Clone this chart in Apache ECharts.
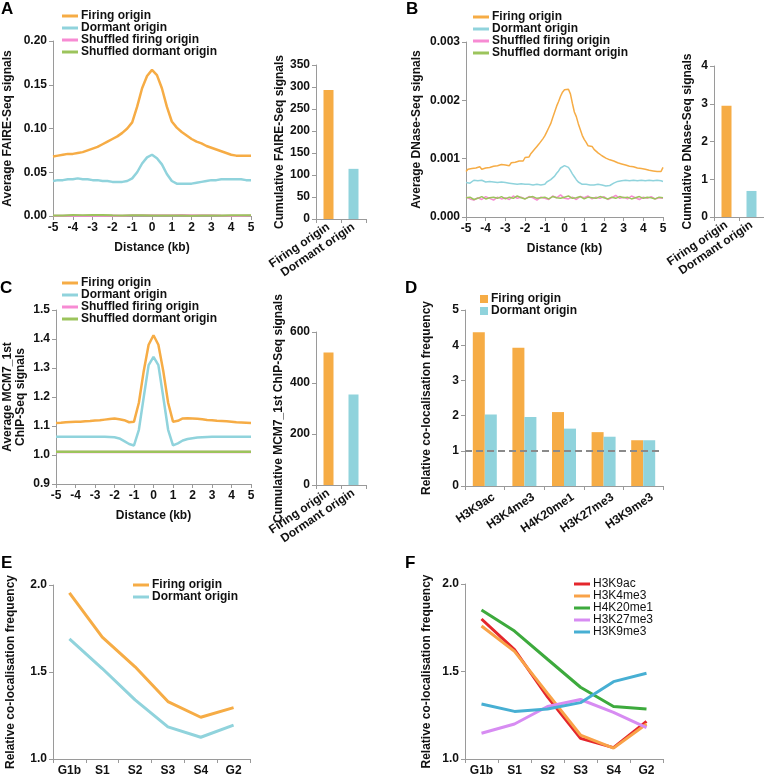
<!DOCTYPE html>
<html><head><meta charset="utf-8">
<script src="https://cdn.jsdelivr.net/npm/echarts@6.0.0/dist/echarts.min.js"></script>
<style>html,body{margin:0;padding:0;background:#fff}#c{width:764px;height:778px}</style>
</head><body><div id="c"></div>
<script>
// ---------- DATA ----------
const originCats = ['Firing origin', 'Dormant origin'];
// Panel A: FAIRE-Seq profiles (step 0.25 kb from -5)
const faireFiring = [0.068,0.069,0.070,0.071,0.071,0.072,0.073,0.075,0.077,0.079,0.082,0.085,0.088,0.091,0.095,0.100,0.107,0.125,0.146,0.160,0.167,0.161,0.146,0.125,0.108,0.101,0.096,0.092,0.088,0.085,0.083,0.080,0.078,0.076,0.074,0.072,0.070,0.069,0.069,0.069,0.069];
const faireDormant = [0.040,0.041,0.041,0.042,0.042,0.043,0.042,0.042,0.041,0.041,0.040,0.040,0.039,0.039,0.039,0.040,0.043,0.050,0.060,0.067,0.070,0.066,0.059,0.048,0.040,0.037,0.037,0.037,0.037,0.038,0.039,0.040,0.041,0.041,0.042,0.042,0.042,0.042,0.042,0.041,0.041];
// step 0.5 kb
const faireShufFiring = [0.0004,0.0004,0.0005,0.0004,0.0005,0.0004,0.0005,0.0004,0.0009,0.0010,0.0008,0.0010,0.0009,0.0011,0.0009,0.0010,0.0008,0.0005,0.0004,0.0004,0.0005];
const faireShufDormant = [0.0006,0.0006,0.0011,0.0010,0.0012,0.0011,0.0008,0.0006,0.0010,0.0009,0.0007,0.0006,0.0005,0.0005,0.0004,0.0005,0.0006,0.0005,0.0009,0.0010,0.0009];
const faireCumulative = [293, 114];

// Panel B: DNase-Seq profiles (step 0.1 kb from -5)
const dnaseFiring = [
0.00078,0.00082,0.00079,0.00083,0.00080,0.00084,0.00081,0.00086,0.00082,0.00080,
0.00084,0.00081,0.00085,0.00083,0.00087,0.00084,0.00088,0.00086,0.00090,0.00087,
0.00089,0.00092,0.00088,0.00093,0.00090,0.00094,0.00091,0.00096,0.00099,0.00096,
0.00102,0.00105,0.00103,0.00109,0.00112,0.00117,0.00121,0.00125,0.00128,0.00134,
0.00139,0.00146,0.00153,0.00160,0.00170,0.00180,0.00190,0.00198,0.00207,0.00214,
0.00218,0.00215,0.00219,0.00211,0.00195,0.00180,0.00172,0.00160,0.00150,0.00140,
0.00133,0.00128,0.00122,0.00125,0.00121,0.00116,0.00113,0.00110,0.00108,0.00105,
0.00106,0.00101,0.00103,0.00098,0.00100,0.00096,0.00098,0.00093,0.00095,0.00091,
0.00093,0.00089,0.00091,0.00087,0.00090,0.00086,0.00088,0.00084,0.00087,0.00083,
0.00086,0.00082,0.00084,0.00080,0.00083,0.00079,0.00082,0.00078,0.00081,0.00078,
0.00085];
const dnaseDormant = [
0.00059,0.00062,0.00058,0.00061,0.00063,0.00060,0.00062,0.00059,0.00063,0.00061,
0.00060,0.00063,0.00061,0.00064,0.00060,0.00062,0.00059,0.00062,0.00060,0.00061,
0.00059,0.00061,0.00058,0.00060,0.00057,0.00059,0.00056,0.00058,0.00057,0.00059,
0.00056,0.00058,0.00056,0.00057,0.00055,0.00058,0.00056,0.00057,0.00055,0.00056,
0.00056,0.00060,0.00063,0.00064,0.00067,0.00070,0.00075,0.00079,0.00084,0.00086,
0.00088,0.00087,0.00085,0.00080,0.00074,0.00069,0.00064,0.00060,0.00058,0.00056,
0.00055,0.00056,0.00054,0.00055,0.00053,0.00055,0.00054,0.00056,0.00053,0.00055,
0.00054,0.00053,0.00055,0.00054,0.00056,0.00058,0.00059,0.00061,0.00060,0.00062,
0.00060,0.00063,0.00061,0.00062,0.00060,0.00063,0.00061,0.00062,0.00060,0.00063,
0.00061,0.00062,0.00060,0.00063,0.00061,0.00062,0.00060,0.00063,0.00061,0.00062,
0.00061];
// step 0.2 kb
const dnaseShufFiring = [
0.00034,0.00031,0.00029,0.00033,0.00030,0.00035,0.00032,0.00029,0.00034,0.00031,
0.00033,0.00030,0.00036,0.00032,0.00034,0.00031,0.00035,0.00033,0.00029,0.00034,
0.00032,0.00030,0.00036,0.00033,0.00038,0.00032,0.00031,0.00034,0.00030,0.00035,
0.00033,0.00036,0.00031,0.00034,0.00032,0.00035,0.00030,0.00033,0.00037,0.00032,
0.00034,0.00031,0.00036,0.00033,0.00030,0.00034,0.00032,0.00035,0.00031,0.00033,
0.00032];
const dnaseShufDormant = [
0.00033,0.00034,0.00030,0.00032,0.00035,0.00031,0.00033,0.00034,0.00032,0.00035,
0.00031,0.00034,0.00032,0.00036,0.00033,0.00031,0.00034,0.00035,0.00032,0.00033,
0.00034,0.00031,0.00035,0.00033,0.00032,0.00034,0.00036,0.00032,0.00033,0.00035,
0.00031,0.00034,0.00033,0.00032,0.00035,0.00033,0.00031,0.00034,0.00032,0.00035,
0.00033,0.00034,0.00031,0.00033,0.00035,0.00032,0.00034,0.00033,0.00031,0.00034,
0.00033];
const dnaseCumulative = [2.95, 0.69];

// Panel C: MCM7_1st ChIP-Seq profiles (step 0.25 kb from -5)
const mcmFiring = [1.110,1.111,1.113,1.114,1.115,1.115,1.116,1.117,1.119,1.120,1.122,1.124,1.126,1.123,1.120,1.113,1.115,1.180,1.290,1.380,1.413,1.380,1.290,1.180,1.115,1.118,1.126,1.127,1.126,1.125,1.123,1.121,1.120,1.118,1.117,1.116,1.115,1.113,1.112,1.111,1.110];
const mcmDormant = [1.063,1.063,1.063,1.063,1.063,1.063,1.063,1.063,1.063,1.063,1.063,1.062,1.061,1.057,1.048,1.038,1.033,1.087,1.200,1.310,1.338,1.310,1.200,1.087,1.033,1.040,1.050,1.055,1.058,1.060,1.061,1.062,1.063,1.063,1.063,1.063,1.063,1.063,1.063,1.063,1.063];
// step 1 kb
const mcmShufFiring = [1.010,1.010,1.010,1.010,1.010,1.010,1.010,1.010,1.010,1.010,1.010];
const mcmShufDormant = [1.011,1.011,1.011,1.011,1.011,1.011,1.011,1.011,1.011,1.011,1.011];
const mcmCumulative = [520, 355];

// Panel D
const histoneMarks = ['H3K9ac', 'H3K4me3', 'H4K20me1', 'H3K27me3', 'H3K9me3'];
const coFiring = [4.37, 3.93, 2.10, 1.53, 1.30];
const coDormant = [2.03, 1.96, 1.63, 1.40, 1.30];

// Panel E
const phases = ['G1b', 'S1', 'S2', 'S3', 'S4', 'G2'];
const phaseFiring = [1.955, 1.70, 1.53, 1.33, 1.24, 1.295];
const phaseDormant = [1.69, 1.52, 1.34, 1.185, 1.125, 1.195];

// Panel F
const fH3K9ac = [1.80, 1.625, 1.355, 1.118, 1.065, 1.215];
const fH3K4me3 = [1.76, 1.615, 1.375, 1.137, 1.062, 1.200];
const fH4K20me1 = [1.851, 1.731, 1.57, 1.41, 1.30, 1.286];
const fH3K27me3 = [1.147, 1.20, 1.30, 1.34, 1.267, 1.179];
const fH3K9me3 = [1.314, 1.272, 1.286, 1.322, 1.442, 1.49];

// ---------- STYLE ----------
const FONT = '"Liberation Sans", Arial, Helvetica, sans-serif';
const AX = '#9a9a9a';
const TXT = '#111';
const C_OR = '#F6AC45', C_CY = '#90D3DC', C_PK = '#F78BD3', C_GR = '#9CC45C';
const F_RED = '#E4262C', F_OR = '#F9A248', F_GR = '#3DAA3D', F_VI = '#D78CF2', F_BL = '#47AFD3';

function pairs(vals, start, step) { return vals.map((v, i) => [start + i * step, v]); }

function axisBase() {
  return {
    axisLine: { show: true, onZero: false, lineStyle: { color: AX, width: 1 } },
    axisTick: { show: true, length: 4, lineStyle: { color: AX } },
    splitLine: { show: false },
    axisLabel: { color: TXT, fontFamily: FONT, fontWeight: 'bold', fontSize: 12, margin: 6 },
    nameTextStyle: { color: TXT, fontFamily: FONT, fontWeight: 'bold', fontSize: 12, lineHeight: 13 }
  };
}
function distAxis(gi) {
  const a = axisBase();
  return Object.assign(a, { type: 'value', gridIndex: gi, min: -5, max: 5, interval: 1,
    name: 'Distance (kb)', nameLocation: 'middle', nameGap: 25 });
}
function yVal(gi, min, max, interval, dec, name, gap) {
  const a = axisBase();
  a.axisLabel.formatter = v => v.toFixed(dec);
  return Object.assign(a, { type: 'value', gridIndex: gi, min, max, interval,
    name, nameLocation: 'middle', nameGap: gap });
}
function catAxis(gi, data, rotate, margin) {
  const a = axisBase();
  a.axisLabel.interval = 0;
  a.axisLabel.rotate = rotate;
  a.axisLabel.margin = margin;
  return Object.assign(a, { type: 'category', gridIndex: gi, data, boundaryGap: true,
    axisTick: { show: true, length: 4, alignWithLabel: false, lineStyle: { color: AX } } });
}
function lineS(name, data, xi, color, width, z) {
  return { type: 'line', name, data, xAxisIndex: xi, yAxisIndex: xi, showSymbol: false, symbol: 'none',
    lineStyle: { color, width }, itemStyle: { color }, z: z || 2 };
}
function barS(name, data, xi, colors, width) {
  return { type: 'bar', name, data: data.map((v, i) => ({ value: v, itemStyle: { color: colors[i] } })),
    xAxisIndex: xi, yAxisIndex: xi, barWidth: width };
}
function legendLine(left, top, names, bold) {
  return { left, top, orient: 'vertical', icon: 'rect', itemWidth: 16, itemHeight: 3, itemGap: 0, padding: 0,
    data: names, selectedMode: false,
    textStyle: { color: TXT, fontFamily: FONT, fontWeight: bold ? 'bold' : 'normal', fontSize: 12, lineHeight: 12, padding: [0, 0, 0, -2] } };
}

const profNames = ['Firing origin', 'Dormant origin', 'Shuffled firing origin', 'Shuffled dormant origin'];

const grids = [
  { left: 53, top: 41, width: 198, height: 175 },   // 0 A line
  { left: 316, top: 65, width: 50, height: 154 },   // 1 A bar
  { left: 466, top: 42, width: 197, height: 175 },  // 2 B line
  { left: 714, top: 66, width: 50, height: 151 },   // 3 B bar
  { left: 53, top: 310, width: 198, height: 174 },  // 4 C line
  { left: 316, top: 332, width: 50, height: 153 },  // 5 C bar
  { left: 465, top: 310, width: 198, height: 176 }, // 6 D
  { left: 53, top: 585, width: 197, height: 174 },  // 7 E
  { left: 465, top: 584, width: 198, height: 175 }, // 8 F
  { left: 474, top: 310, width: 198, height: 176 }  // 9 D category labels (shifted like the original)
];

const dLabelAxis = catAxis(9, histoneMarks, 34, 10);
dLabelAxis.axisLine = { show: false };
dLabelAxis.axisTick = { show: false };
const dMainAxis = catAxis(6, histoneMarks, 34, 10);
dMainAxis.axisLabel.show = false;

const xAxes = [
  distAxis(0), catAxis(1, originCats, 34, 7), distAxis(2), catAxis(3, originCats, 34, 7),
  distAxis(4), catAxis(5, originCats, 34, 7), dMainAxis,
  catAxis(7, phases, 0, 6), catAxis(8, phases, 0, 6), dLabelAxis
];
const yAxes = [
  yVal(0, 0, 0.2, 0.05, 2, 'Average FAIRE-Seq signals', 39),
  yVal(1, 0, 350, 50, 0, 'Cumulative FAIRE-Seq signals', 30),
  yVal(2, 0, 0.003, 0.001, 3, 'Average DNase-Seq signals', 43),
  yVal(3, 0, 4, 1, 0, 'Cumulative DNase-Seq signals', 20),
  yVal(4, 0.9, 1.5, 0.1, 1, 'Average MCM7_1st\nChIP-Seq signals', 29),
  yVal(5, 0, 600, 200, 0, 'Cumulative MCM7_1st ChIP-Seq signals', 31),
  yVal(6, 0, 5, 1, 0, 'Relative co-localisation frequency', 32),
  yVal(7, 1, 2, 0.5, 1, 'Relative co-localisation frequency', 36),
  yVal(8, 1, 2, 0.5, 1, 'Relative co-localisation frequency', 32),
  { type: 'value', gridIndex: 9, show: false, min: 0, max: 5 }
];

const series = [
  // A
  lineS('Shuffled firing origin', pairs(faireShufFiring, -5, 0.5), 0, C_PK, 2),
  lineS('Shuffled dormant origin', pairs(faireShufDormant, -5, 0.5), 0, C_GR, 2),
  lineS('Dormant origin', pairs(faireDormant, -5, 0.25), 0, C_CY, 2.5),
  lineS('Firing origin', pairs(faireFiring, -5, 0.25), 0, C_OR, 2.5),
  barS('cumA', faireCumulative, 1, [C_OR, C_CY], 10),
  // B
  lineS('Shuffled firing origin', pairs(dnaseShufFiring, -5, 0.2), 2, C_PK, 1.5),
  lineS('Shuffled dormant origin', pairs(dnaseShufDormant, -5, 0.2), 2, C_GR, 1.5),
  lineS('Dormant origin', pairs(dnaseDormant, -5, 0.1), 2, C_CY, 1.5),
  lineS('Firing origin', pairs(dnaseFiring, -5, 0.1), 2, C_OR, 1.5),
  barS('cumB', dnaseCumulative, 3, [C_OR, C_CY], 10),
  // C
  lineS('Shuffled firing origin', pairs(mcmShufFiring, -5, 1), 4, C_PK, 2.5),
  lineS('Shuffled dormant origin', pairs(mcmShufDormant, -5, 1), 4, C_GR, 2.5),
  lineS('Dormant origin', pairs(mcmDormant, -5, 0.25), 4, C_CY, 2.5),
  lineS('Firing origin', pairs(mcmFiring, -5, 0.25), 4, C_OR, 2.5),
  barS('cumC', mcmCumulative, 5, [C_OR, C_CY], 10),
  // D
  { type: 'bar', name: 'Firing origin', data: coFiring, xAxisIndex: 6, yAxisIndex: 6, barWidth: 12, barGap: '0%',
    itemStyle: { color: C_OR } },
  { type: 'bar', name: 'Dormant origin', data: coDormant, xAxisIndex: 6, yAxisIndex: 6, barWidth: 12, barGap: '0%',
    itemStyle: { color: C_CY },
    markLine: { silent: true, symbol: 'none', label: { show: false }, animation: false,
      lineStyle: { type: [7, 4], color: '#8a8a8a', width: 2 }, data: [{ yAxis: 1 }] } },
  // E
  lineS('Firing origin', phaseFiring, 7, C_OR, 3),
  lineS('Dormant origin', phaseDormant, 7, C_CY, 3),
  // F
  lineS('H3K9ac', fH3K9ac, 8, F_RED, 3),
  lineS('H3K4me3', fH3K4me3, 8, F_OR, 3),
  lineS('H4K20me1', fH4K20me1, 8, F_GR, 3),
  lineS('H3K27me3', fH3K27me3, 8, F_VI, 3),
  lineS('H3K9me3', fH3K9me3, 8, F_BL, 3)
];

const legends = [
  legendLine(62, 10, profNames, true),
  legendLine(473, 11, profNames, true),
  legendLine(62, 277, profNames, true),
  { left: 480, top: 293, orient: 'vertical', icon: 'rect', itemWidth: 8, itemHeight: 8, itemGap: 0, padding: 0,
    data: ['Firing origin', 'Dormant origin'], selectedMode: false,
    textStyle: { color: TXT, fontFamily: FONT, fontWeight: 'bold', fontSize: 12, lineHeight: 12, padding: [0, 0, 0, -2] } },
  legendLine(133, 579, ['Firing origin', 'Dormant origin'], true),
  legendLine(574, 578, ['H3K9ac', 'H3K4me3', 'H4K20me1', 'H3K27me3', 'H3K9me3'], false)
];

const panelLabel = (t, x, y) => ({ type: 'text', left: x, top: y,
  style: { text: t, fill: '#000', font: 'bold 17px ' + FONT } });

const chart = echarts.init(document.getElementById('c'), null, { renderer: 'canvas' });
chart.setOption({
  animation: false,
  backgroundColor: '#fff',
  grid: grids,
  xAxis: xAxes,
  yAxis: yAxes,
  legend: legends,
  series,
  graphic: [
    panelLabel('A', 1, 1), panelLabel('B', 406, 1), panelLabel('C', 0, 280),
    panelLabel('D', 405, 280), panelLabel('E', 1, 555), panelLabel('F', 405, 555)
  ]
});
</script>
</body></html>
